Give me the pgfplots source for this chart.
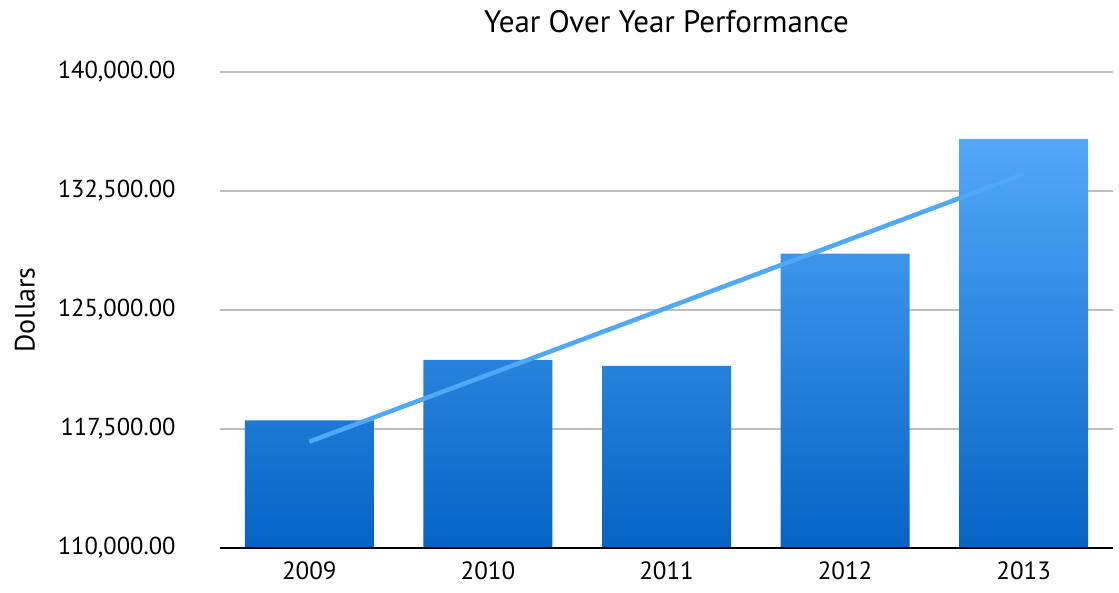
\documentclass[border=0pt]{standalone}
\usepackage{fontspec}
\setmainfont{PT Sans}
\usepackage{pgfplots}
\pgfplotsset{compat=1.18}
\definecolor{bartop}{HTML}{52A8FA}
\definecolor{barbot}{HTML}{0563C4}
\definecolor{trend}{HTML}{4FA8F8}
\definecolor{gridc}{HTML}{BEBEBE}
\begin{document}
\begin{tikzpicture}[x=1pt,y=1pt]
\begin{axis}[
  at={(0pt,0pt)}, anchor=south west,
  scale only axis,
  width=893pt, height=476pt,
  xmin=-0.5, xmax=4.5,
  ymin=110000, ymax=140000,
  ytick={110000,117500,125000,132500,140000},
  xtick={0,1,2,3,4},
  xticklabels={2009,2010,2011,2012,2013},
  scaled y ticks=false,
  ymajorgrids,
  grid style={gridc, line width=2pt},
  axis line style={draw=none},
  major tick length=0pt,
  tick label style={text=black},
  x tick label style={font=\fontsize{25}{30}\selectfont, yshift=-10pt},
  y tick label style={font=\fontsize{24.5}{29}\selectfont, /pgf/number format/fixed, /pgf/number format/fixed zerofill, /pgf/number format/precision=2, /pgf/number format/1000 sep={,}, /pgf/number format/assume math mode=true, xshift=-41pt},
  title={Year Over Year Performance},
  title style={font=\fontsize{31}{36}\selectfont, at={(0.5,1)}, yshift=30pt},
  ylabel={Dollars},
  ylabel style={font=\fontsize{28}{33}\selectfont, at={(axis description cs:0,0.5)}, anchor=center, yshift=195pt},
  clip=false,
]
\addplot[ybar, bar width=129pt, draw=none, top color=bartop, bottom color=barbot] coordinates {
  (0,118050) (1,121850) (2,121480) (3,128550) (4,135780)
};
\addplot[trend, line width=4.5pt, no marks] coordinates {
  (0,116700) (4,133560)
};
\draw[black, line width=2pt] (axis cs:-0.5,110000) -- (axis cs:4.5,110000);
\end{axis}
\pgfresetboundingbox
\useasboundingbox (-220pt,-45pt) rectangle (899pt,548pt);
\end{tikzpicture}
\end{document}
